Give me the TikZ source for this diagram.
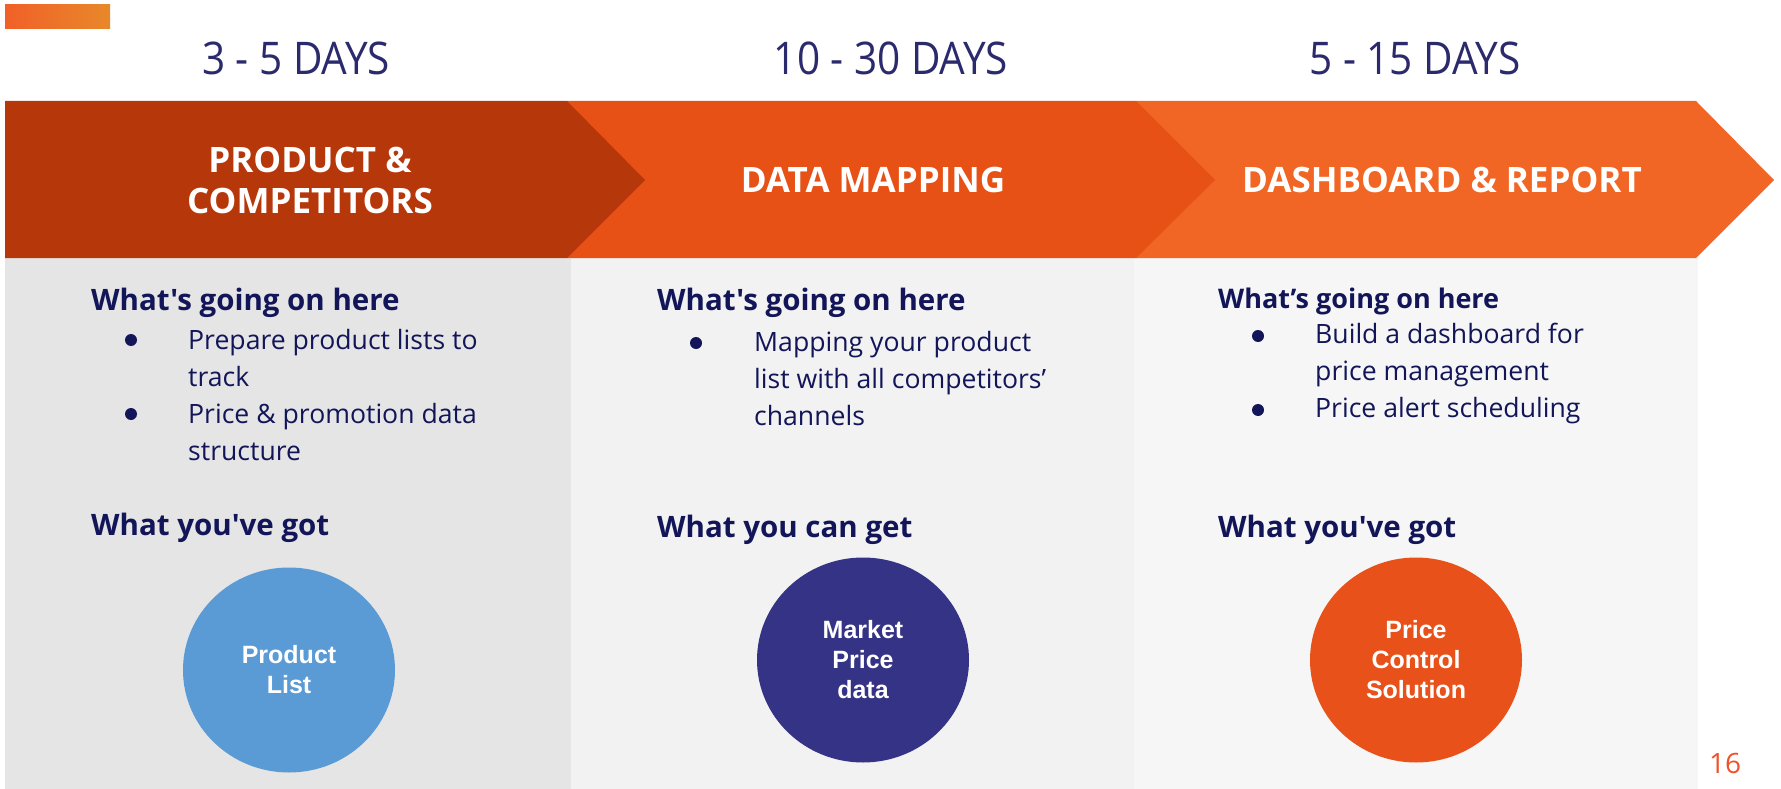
\documentclass[tikz,border=0pt]{standalone}
\usepackage{fontspec}
\usetikzlibrary{shapes.geometric}
\newfontfamily\opensans{Open Sans}
\newfontfamily\daysfont{Open Sans}[FakeStretch=0.9]
\newfontfamily\badgefont{Liberation Sans}

\definecolor{barleft}{RGB}{241,96,40}
\definecolor{barright}{RGB}{232,136,42}
\definecolor{stepone}{RGB}{182,55,10}
\definecolor{steptwo}{RGB}{232,81,22}
\definecolor{stepthree}{RGB}{241,102,37}
\definecolor{paneone}{RGB}{229,229,229}
\definecolor{panetwo}{RGB}{242,242,242}
\definecolor{panethree}{RGB}{246,246,246}
\definecolor{daynavy}{RGB}{42,42,108}
\definecolor{textnavy}{RGB}{18,21,88}
\definecolor{badgeblue}{RGB}{91,155,213}
\definecolor{badgenavy}{RGB}{53,51,133}
\definecolor{badgeorange}{RGB}{232,82,26}
\definecolor{pagered}{RGB}{240,80,42}

\begin{document}
\begin{tikzpicture}[x=1pt,y=-1pt,
        days/.style={anchor=base,inner sep=0pt,text=daynavy,
            font=\daysfont\fontsize{45}{54}\selectfont},
        steptitle/.style={inner sep=0pt,text=white,align=center,
            font=\opensans\bfseries\fontsize{35}{41}\selectfont},
        head/.style={anchor=base west,inner sep=0pt,text=textnavy,
            font=\opensans\bfseries\fontsize{29.5}{36}\selectfont},
        item/.style={anchor=base west,inner sep=0pt,text=textnavy,align=left,
            font=\opensans\fontsize{26.6}{37}\selectfont},
        badge/.style={ellipse,minimum width=212,minimum height=205,inner sep=0pt,
            text=white,align=center,font=\badgefont\bfseries\fontsize{25}{30}\selectfont}]
        \useasboundingbox (0,0) rectangle (1781,789);

        \shade[left color=barleft,right color=barright] (5,5) rectangle (110,29);

        \node[days] (d1) at (296,75) {3 - 5 DAYS};
        \node[days] (d2) at (891,75) {10 - 30 DAYS};
        \node[days] (d3) at (1415,75) {5 - 15 DAYS};

        % panels under the arrows
        \fill[paneone] (5,258) rectangle (571,789);
        \fill[panetwo] (571,258) rectangle (1134,789);
        \fill[panethree] (1134,258) rectangle (1698,789);

        % chevrons, last one first so each tip lies on the next
        \fill[stepthree] (1136,101) -- (1696,101) -- (1774,180) -- (1696,258) -- (1136,258) -- cycle;
        \fill[steptwo] (567,101) -- (1136,101) -- (1215,180) -- (1136,258) -- (567,258) -- cycle;
        \fill[stepone] (5,101) -- (567,101) -- (645,180) -- (567,258) -- (5,258) -- cycle;

        \node[steptitle] (t1) at (310,180) {PRODUCT \&\\COMPETITORS};
        \node[steptitle] (t2) at (873,180) {DATA MAPPING};
        \node[steptitle] (t3) at (1442,180) {DASHBOARD \& REPORT};

        % first panel (item nodes sit on their last line)
        \node[head] (h1) at (91,310) {What's going on here};
        \fill[textnavy] (131,340) circle (6);
        \node[item] (i11) at (188,386) {Prepare product lists to\\track};
        \fill[textnavy] (131,414) circle (6);
        \node[item] (i12) at (188,460) {Price \& promotion data\\structure};
        \node[head] (g1) at (91,535) {What you've got};
        \node[badge,fill=badgeblue] (b1) at (289,670) {Product\\List};

        % second panel
        \node[head] (h2) at (657,310) {What's going on here};
        \fill[textnavy] (696,343) circle (6);
        \node[item] (i21) at (754,425) {Mapping your product\\list with all competitors’\\channels};
        \node[head] (g2) at (657,537) {What you can get};
        \node[badge,fill=badgenavy] (b2) at (863,660) {Market\\Price\\data};

        % third panel
        \node[head,font=\opensans\bfseries\fontsize{27}{33}\selectfont] (h3) at (1218,308) {What’s going on here};
        \fill[textnavy] (1258,336) circle (6);
        \node[item] (i31) at (1315,380) {Build a dashboard for\\price management};
        \fill[textnavy] (1258,410) circle (6);
        \node[item] (i32) at (1315,417) {Price alert scheduling};
        \node[head] (g3) at (1218,537) {What you've got};
        \node[badge,fill=badgeorange] (b3) at (1416,660) {Price\\Control\\Solution};

        \node[anchor=base,inner sep=0pt,text=pagered,font=\opensans\fontsize{28}{34}\selectfont]
            (pg) at (1725,773) {16};
    \end{tikzpicture}
\end{document}
